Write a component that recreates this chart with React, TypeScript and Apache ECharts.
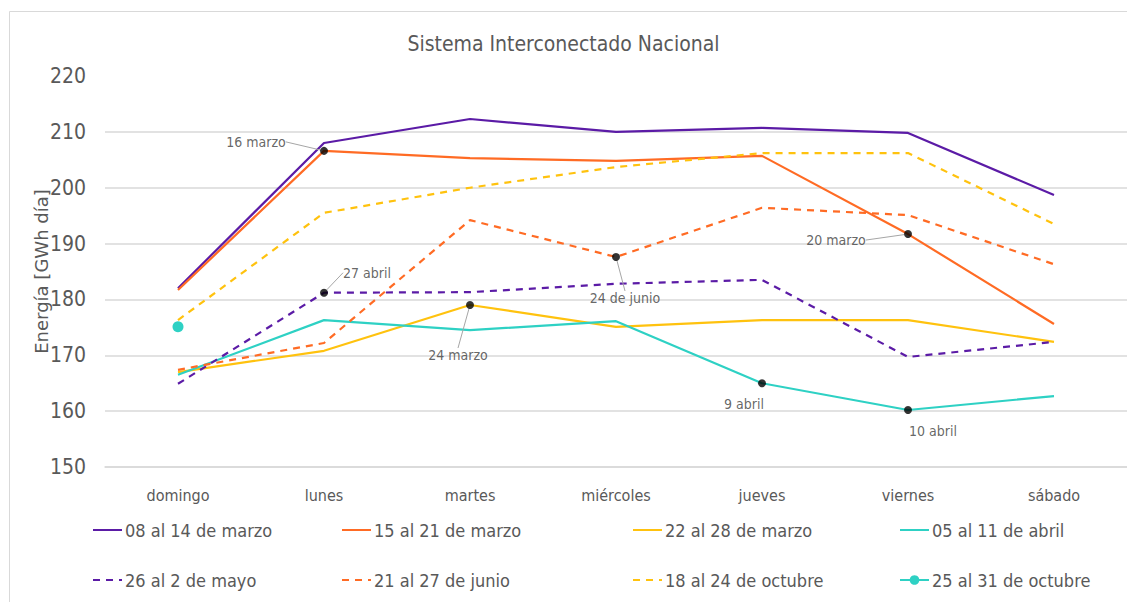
import React, { useEffect, useRef } from "react";
import * as echarts from "echarts";

const days = ["domingo", "lunes", "martes", "miércoles", "jueves", "viernes", "sábado"];
const yTicks = [150, 160, 170, 180, 190, 200, 210, 220];

const seriesNames = [
  "08 al 14 de marzo",
  "15 al 21 de marzo",
  "22 al 28 de marzo",
  "05 al 11 de abril",
  "26 al 2 de mayo",
  "21 al 27 de junio",
  "18 al 24 de octubre",
  "25 al 31 de octubre",
];

const marzo08 = [182.0, 208.0, 212.3, 210.0, 210.7, 209.8, 198.7];
const marzo15 = [181.7, 206.6, 205.3, 204.8, 205.7, 191.7, 175.6];
const marzo22 = [167.0, 170.8, 179.0, 175.1, 176.3, 176.3, 172.4];
const abril05 = [166.5, 176.3, 174.5, 176.1, 165.0, 160.2, 162.7];
const mayo26 = [164.9, 181.2, 181.3, 182.8, 183.5, 169.7, 172.4];
const junio21 = [167.4, 172.2, 194.2, 187.6, 196.4, 195.1, 186.3];
const octubre18 = [176.3, 195.5, 200.0, 203.7, 206.2, 206.2, 193.5];
const octubre25 = [175.1, null, null, null, null, null, null];

const seriesValues = [marzo08, marzo15, marzo22, abril05, mayo26, junio21, octubre18, octubre25];

// annotations: [series index, day index, text]
const annotations: [number, number, string][] = [
  [1, 1, "16 marzo"],
  [4, 1, "27 abril"],
  [2, 2, "24 marzo"],
  [5, 3, "24 de junio"],
  [1, 5, "20 marzo"],
  [3, 4, "9 abril"],
  [3, 5, "10 abril"],
];

const colors = ["#5B1BA6", "#FF6B24", "#FFC20E", "#2ED1C4", "#5B1BA6", "#FF6B24", "#FFC20E", "#2ED1C4"];
const dashed = [false, false, false, false, true, true, true, false];
const labelOffsets: [number, number, boolean][] = [
  [-68, -9, true],
  [43, -20, true],
  [-12, 50, true],
  [9, 41, true],
  [-72, 6, true],
  [-18, 21, false],
  [25, 21, false],
];
const legendPos: [number, number][] = [
  [87, 516], [336, 516], [627, 516], [894, 516],
  [87, 566], [336, 566], [627, 566], [894, 566],
];

const NARROW = "'DejaVu Sans Condensed', 'Liberation Sans Narrow', 'Noto Sans', sans-serif";
const WIDE = "'DejaVu Sans', 'Noto Sans', sans-serif";

export default function App() {
  const ref = useRef<HTMLDivElement>(null);
  useEffect(() => {
    if (!ref.current) return;
    const chart = echarts.init(ref.current, null, { renderer: "svg" });
    const lineSeries = seriesNames.map((name, i) => ({
      name,
      type: "line",
      data: seriesValues[i],
      symbol: i === 7 ? "circle" : "none",
      symbolSize: 11,
      showSymbol: i === 7,
      connectNulls: false,
      itemStyle: { color: colors[i] },
      lineStyle: { color: colors[i], width: 2.2, type: dashed[i] ? [7, 6] : "solid" },
      z: 2,
    }));
    const annSeries = {
      name: "annotations",
      type: "scatter",
      symbol: "circle",
      symbolSize: 8,
      itemStyle: { color: "#000" },
      z: 5,
      data: annotations.map(([s, d, text], k) => ({
        value: [d, seriesValues[s][d]],
        label: {
          show: true,
          formatter: text,
          position: "inside",
          color: "#404040",
          fontSize: 14,
          fontFamily: NARROW,
        },
        labelLine: {
          show: labelOffsets[k][2],
          lineStyle: { color: "#a6a6a6", width: 1 },
        },
      })),
      labelLayout: (p: any) => ({ dx: labelOffsets[p.dataIndex][0], dy: labelOffsets[p.dataIndex][1] }),
    };
    const legends = seriesNames.map((name, i) => ({
      data: [name],
      left: legendPos[i][0],
      top: legendPos[i][1],
      itemWidth: 29,
      itemHeight: 12,
      itemGap: 2,
      itemStyle: i === 7 ? { color: colors[i] } : { opacity: 0 },
      textStyle: { color: "#595959", fontSize: 18, fontFamily: NARROW, padding: [0, 0, 0, -2] },
      selectedMode: false,
    }));
    chart.setOption({
      animation: false,
      backgroundColor: "#fff",
      title: {
        text: "Sistema Interconectado Nacional",
        left: "center",
        top: 28,
        textStyle: { color: "#595959", fontSize: 21, fontWeight: "normal", fontFamily: NARROW },
      },
      graphic: [
        {
          type: "rect",
          shape: { x: 9.5, y: 11.5, width: 1130, height: 600 },
          style: { fill: "none", stroke: "#d9d9d9", lineWidth: 1 },
          silent: true,
        },
      ],
      legend: legends,
      grid: { left: 105, right: 0, top: 76, bottom: 135 },
      xAxis: {
        type: "category",
        data: days,
        boundaryGap: true,
        axisLine: { show: true, lineStyle: { color: "#d9d9d9", width: 1.5 } },
        axisTick: { show: false },
        axisLabel: { color: "#595959", fontSize: 16, fontFamily: NARROW, margin: 20 },
      },
      yAxis: {
        type: "value",
        min: yTicks[0],
        max: yTicks[yTicks.length - 1],
        interval: 10,
        name: "Energía [GWh día]",
        nameLocation: "middle",
        nameGap: 55,
        nameMoveOverlap: false,
        nameRotate: 90,
        nameTextStyle: { color: "#595959", fontSize: 18, fontFamily: WIDE },
        axisLine: { show: false },
        axisTick: { show: false },
        axisLabel: { color: "#595959", fontSize: 21, fontFamily: NARROW, margin: 19 },
        splitLine: { show: true, showMaxLine: false, lineStyle: { color: "#d9d9d9", width: 1.5 } },
      },
      series: [...lineSeries, annSeries],
    });
    return () => chart.dispose();
  }, []);
  return <div ref={ref} style={{ position: "absolute", left: 0, top: 0, width: 1127, height: 602 }} />;
}
